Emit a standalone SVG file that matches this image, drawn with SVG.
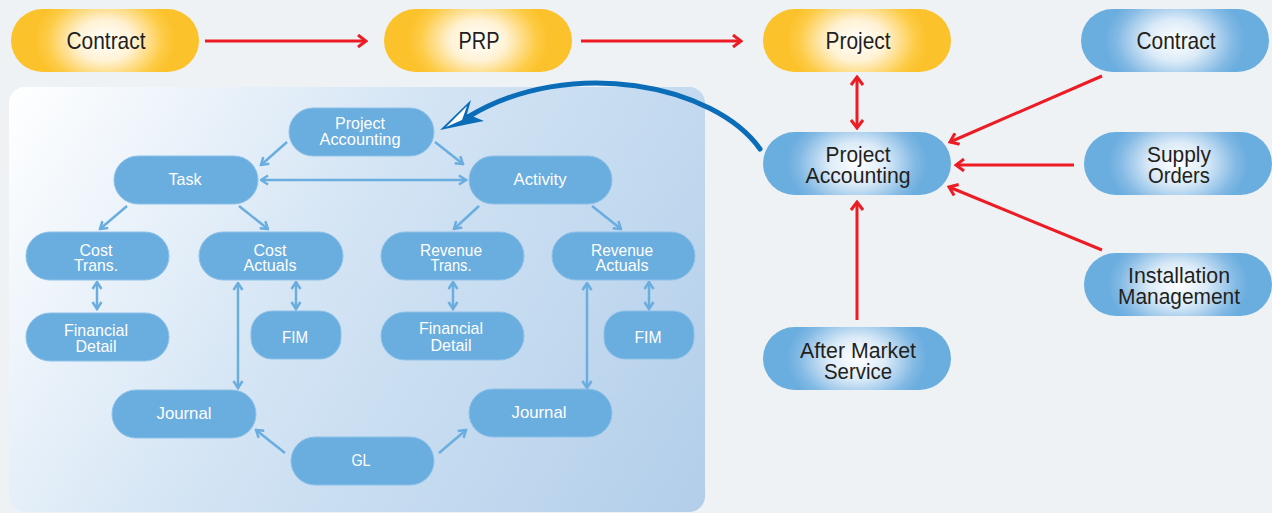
<svg xmlns="http://www.w3.org/2000/svg" width="1272" height="513" viewBox="0 0 1272 513">
<defs>
<radialGradient id="gOr" cx=".5" cy=".5" r=".5" gradientTransform="translate(.5 .5) scale(1 2.2) translate(-.5 -.5)">
<stop offset="0" stop-color="#ffffff"/><stop offset=".3" stop-color="#fff2d4"/><stop offset=".62" stop-color="#fdcb45"/><stop offset=".75" stop-color="#fcc22b"/><stop offset="1" stop-color="#fcc22b"/>
</radialGradient>
<radialGradient id="gBl" cx=".5" cy=".5" r=".5" gradientTransform="translate(.5 .5) scale(1 2.2) translate(-.5 -.5)">
<stop offset="0" stop-color="#ffffff"/><stop offset=".3" stop-color="#dcebf8"/><stop offset=".62" stop-color="#82b9e4"/><stop offset=".75" stop-color="#6aaddf"/><stop offset="1" stop-color="#6aaddf"/>
</radialGradient>
<linearGradient id="gPanel" gradientUnits="userSpaceOnUse" x1="9" y1="87" x2="705" y2="512">
<stop offset="0" stop-color="#ffffff"/><stop offset=".45" stop-color="#d3e4f4"/><stop offset="1" stop-color="#b2ceea"/>
</linearGradient>
<marker id="mRed" markerUnits="userSpaceOnUse" markerWidth="12" markerHeight="14" viewBox="0 0 12 14" refX="10" refY="7" orient="auto-start-reverse">
<path d="M2,1 L10,7 L2,13" fill="none" stroke="#ed1c24" stroke-width="3"/>
</marker>
<marker id="mBlu" markerUnits="userSpaceOnUse" markerWidth="10" markerHeight="12" viewBox="0 0 10 12" refX="8.5" refY="6" orient="auto-start-reverse">
<path d="M1.5,1.5 L8.5,6 L1.5,10.5" fill="none" stroke="#6aaddf" stroke-width="2.5"/>
</marker>
<style>
.po{fill:url(#gOr)}
.pb{fill:url(#gBl)}
.in{fill:#6aaddf;stroke:#8dc1e8;stroke-width:1}
.to{font-family:"Liberation Sans Narrow","Liberation Sans",Arial,sans-serif;fill:#231f20;text-anchor:middle}
.t1{font-size:24px}
.t2{font-size:22px}
.ti{font-family:"Liberation Sans Narrow","Liberation Sans",Arial,sans-serif;fill:#ffffff;text-anchor:middle;font-size:17px}
.rl{stroke:#ed1c24;stroke-width:3;fill:none}
.bl{stroke:#6aaddf;stroke-width:2.5;fill:none}
</style>
</defs>
<rect x="0" y="0" width="1272" height="513" fill="#eef2f4"/>
<rect id="panel" x="9" y="87" width="696" height="425" rx="16" fill="url(#gPanel)"/>

<g id="connectors">
<line class="rl" x1="205" y1="41" x2="366" y2="41" marker-end="url(#mRed)"/>
<line class="rl" x1="581" y1="41" x2="741" y2="41" marker-end="url(#mRed)"/>
<line class="rl" x1="857" y1="77" x2="857" y2="128" marker-start="url(#mRed)" marker-end="url(#mRed)"/>
<line class="rl" x1="1102" y1="76" x2="950" y2="142" marker-end="url(#mRed)"/>
<line class="rl" x1="1074" y1="165" x2="956" y2="165" marker-end="url(#mRed)"/>
<line class="rl" x1="1102" y1="250" x2="949" y2="187" marker-end="url(#mRed)"/>
<line class="rl" x1="857" y1="320" x2="857" y2="202" marker-end="url(#mRed)"/>
<path d="M760,149 C715,85 570,55 468,117" fill="none" stroke="#0b6db7" stroke-width="5" stroke-linecap="round"/>
<polygon points="440,130 471,100 467,114 484,121 469,124" fill="#0b6db7"/>
<polygon points="446,127 467,106 462,120" fill="#ffffff"/>

<line class="bl" x1="287" y1="142" x2="261" y2="165" marker-end="url(#mBlu)"/>
<line class="bl" x1="435" y1="142" x2="463" y2="164" marker-end="url(#mBlu)"/>
<line class="bl" x1="261" y1="180" x2="466" y2="180" marker-start="url(#mBlu)" marker-end="url(#mBlu)"/>
<line class="bl" x1="127" y1="206" x2="100" y2="229" marker-end="url(#mBlu)"/>
<line class="bl" x1="239" y1="206" x2="268" y2="229" marker-end="url(#mBlu)"/>
<line class="bl" x1="479" y1="206" x2="454" y2="229" marker-end="url(#mBlu)"/>
<line class="bl" x1="592" y1="206" x2="621" y2="229" marker-end="url(#mBlu)"/>
<line class="bl" x1="97" y1="282" x2="97" y2="309" marker-start="url(#mBlu)" marker-end="url(#mBlu)"/>
<line class="bl" x1="296" y1="282" x2="296" y2="309" marker-start="url(#mBlu)" marker-end="url(#mBlu)"/>
<line class="bl" x1="238" y1="283" x2="238" y2="388" marker-start="url(#mBlu)" marker-end="url(#mBlu)"/>
<line class="bl" x1="453" y1="282" x2="453" y2="309" marker-start="url(#mBlu)" marker-end="url(#mBlu)"/>
<line class="bl" x1="587" y1="283" x2="587" y2="388" marker-start="url(#mBlu)" marker-end="url(#mBlu)"/>
<line class="bl" x1="649" y1="282" x2="649" y2="309" marker-start="url(#mBlu)" marker-end="url(#mBlu)"/>
<line class="bl" x1="285" y1="453" x2="256" y2="430" marker-end="url(#mBlu)"/>
<line class="bl" x1="439" y1="453" x2="466" y2="430" marker-end="url(#mBlu)"/>
</g>

<g id="contract-top"><rect class="po" x="11" y="9" width="188" height="63" rx="31.5"/><text class="to t1" x="106" y="49" textLength="79" lengthAdjust="spacingAndGlyphs">Contract</text></g>
<g id="prp"><rect class="po" x="384" y="9" width="188" height="63" rx="31.5"/><text class="to t1" x="479" y="49" textLength="41" lengthAdjust="spacingAndGlyphs">PRP</text></g>
<g id="project"><rect class="po" x="763" y="9" width="188" height="63" rx="31.5"/><text class="to t1" x="858" y="49" textLength="65" lengthAdjust="spacingAndGlyphs">Project</text></g>
<g id="contract-right"><rect class="pb" x="1081" y="9" width="188" height="63" rx="31.5"/><text class="to t1" x="1176" y="49" textLength="79" lengthAdjust="spacingAndGlyphs">Contract</text></g>
<g id="project-accounting"><rect class="pb" x="763" y="132" width="188" height="63" rx="31.5"/><text class="to t2" x="858" y="162" textLength="65" lengthAdjust="spacingAndGlyphs">Project</text><text class="to t2" x="858" y="183" textLength="105" lengthAdjust="spacingAndGlyphs">Accounting</text></g>
<g id="supply-orders"><rect class="pb" x="1084" y="132" width="188" height="63" rx="31.5"/><text class="to t2" x="1179" y="162" textLength="64" lengthAdjust="spacingAndGlyphs">Supply</text><text class="to t2" x="1179" y="183" textLength="62" lengthAdjust="spacingAndGlyphs">Orders</text></g>
<g id="installation-management"><rect class="pb" x="1084" y="253" width="188" height="63" rx="31.5"/><text class="to t2" x="1179" y="283" textLength="102" lengthAdjust="spacingAndGlyphs">Installation</text><text class="to t2" x="1179" y="304" textLength="122" lengthAdjust="spacingAndGlyphs">Management</text></g>
<g id="after-market-service"><rect class="pb" x="763" y="327" width="188" height="63" rx="31.5"/><text class="to t2" x="858" y="358" textLength="116" lengthAdjust="spacingAndGlyphs">After Market</text><text class="to t2" x="858" y="379" textLength="68" lengthAdjust="spacingAndGlyphs">Service</text></g>

<g id="pa-inner"><rect class="in" x="289" y="108" width="145" height="48" rx="24"/><text class="ti" x="360" y="129" textLength="50" lengthAdjust="spacingAndGlyphs">Project</text><text class="ti" x="360" y="145" textLength="81" lengthAdjust="spacingAndGlyphs">Accounting</text></g>
<g id="task"><rect class="in" x="114" y="156" width="144" height="48" rx="24"/><text class="ti" x="185" y="185" textLength="33" lengthAdjust="spacingAndGlyphs">Task</text></g>
<g id="activity"><rect class="in" x="469" y="156" width="143" height="48" rx="24"/><text class="ti" x="540" y="185" textLength="53" lengthAdjust="spacingAndGlyphs">Activity</text></g>
<g id="cost-trans"><rect class="in" x="26" y="232" width="143" height="48" rx="24"/><text class="ti" x="96" y="256" textLength="33" lengthAdjust="spacingAndGlyphs">Cost</text><text class="ti" x="96" y="271" textLength="44" lengthAdjust="spacingAndGlyphs">Trans.</text></g>
<g id="cost-actuals"><rect class="in" x="199" y="232" width="144" height="48" rx="24"/><text class="ti" x="270" y="256" textLength="33" lengthAdjust="spacingAndGlyphs">Cost</text><text class="ti" x="270" y="271" textLength="53" lengthAdjust="spacingAndGlyphs">Actuals</text></g>
<g id="revenue-trans"><rect class="in" x="381" y="232" width="143" height="48" rx="24"/><text class="ti" x="451" y="256" textLength="62" lengthAdjust="spacingAndGlyphs">Revenue</text><text class="ti" x="451" y="271" textLength="41" lengthAdjust="spacingAndGlyphs">Trans.</text></g>
<g id="revenue-actuals"><rect class="in" x="552" y="232" width="143" height="48" rx="24"/><text class="ti" x="622" y="256" textLength="62" lengthAdjust="spacingAndGlyphs">Revenue</text><text class="ti" x="622" y="271" textLength="53" lengthAdjust="spacingAndGlyphs">Actuals</text></g>
<g id="financial-detail-1"><rect class="in" x="26" y="313" width="143" height="48" rx="24"/><text class="ti" x="96" y="336" textLength="64" lengthAdjust="spacingAndGlyphs">Financial</text><text class="ti" x="96" y="352" textLength="41" lengthAdjust="spacingAndGlyphs">Detail</text></g>
<g id="fim-1"><rect class="in" x="251" y="311" width="90" height="48" rx="21"/><text class="ti" x="295" y="343" textLength="26" lengthAdjust="spacingAndGlyphs">FIM</text></g>
<g id="financial-detail-2"><rect class="in" x="381" y="312" width="143" height="48" rx="24"/><text class="ti" x="451" y="334" textLength="64" lengthAdjust="spacingAndGlyphs">Financial</text><text class="ti" x="451" y="351" textLength="41" lengthAdjust="spacingAndGlyphs">Detail</text></g>
<g id="fim-2"><rect class="in" x="604" y="311" width="90" height="48" rx="21"/><text class="ti" x="648" y="343" textLength="27" lengthAdjust="spacingAndGlyphs">FIM</text></g>
<g id="journal-1"><rect class="in" x="112" y="390" width="144" height="48" rx="24"/><text class="ti" x="184" y="419" textLength="55" lengthAdjust="spacingAndGlyphs">Journal</text></g>
<g id="journal-2"><rect class="in" x="469" y="389" width="143" height="48" rx="24"/><text class="ti" x="539" y="418" textLength="55" lengthAdjust="spacingAndGlyphs">Journal</text></g>
<g id="gl"><rect class="in" x="291" y="437" width="143" height="48" rx="24"/><text class="ti" x="361" y="466" textLength="19" lengthAdjust="spacingAndGlyphs">GL</text></g>
</svg>
